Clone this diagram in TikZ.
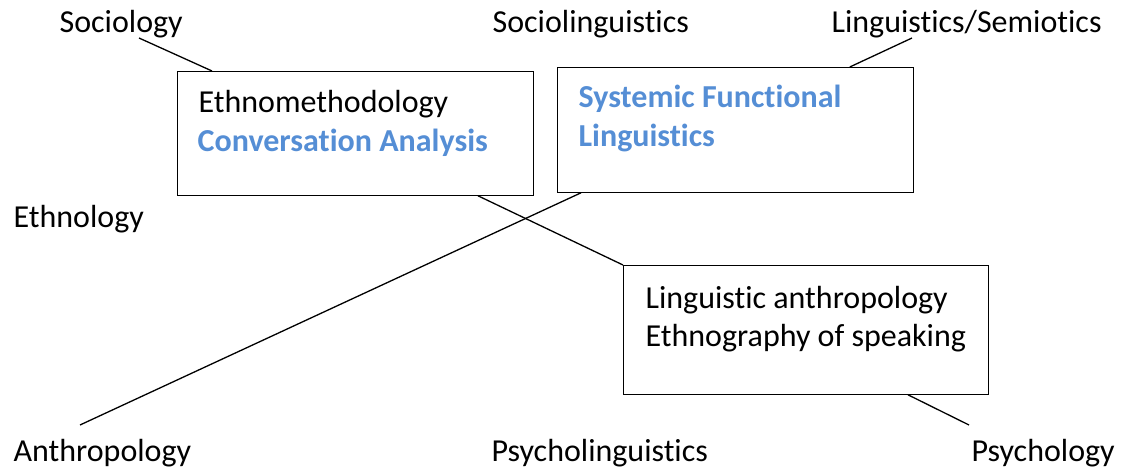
\documentclass[tikz,border=0pt]{standalone}
\usepackage{fontspec}
\setmainfont[Ligatures=NoCommon]{Carlito}
\usetikzlibrary{calc}
\definecolor{sflblue}{RGB}{85,142,213}
\tikzset{
  field/.style={anchor=base west,inner sep=0pt,font=\fontsize{32}{38}\selectfont},
  areabox/.style={draw,thick,anchor=north west,inner sep=0pt},
  hot/.style={field,text=sflblue,font=\fontsize{32}{38}\selectfont\bfseries}
}
\begin{document}
\begin{tikzpicture}[x=1pt,y=-1pt,line width=1.3pt]
\useasboundingbox (0,0) rectangle (1121,470);
% disciplines round the edge
\node[field] (sociology) at (59,33){Sociology};
\node[field] (sociolx) at (492,33){Sociolinguistics};
\node[field] (lingsem) at (831,33){Linguistics/Semiotics};
\node[field] (ethnology) at (13,228){Ethnology};
\node[field] (anthro) at (13,461){Anthropology};
\node[field] (psycholx) at (491,461){Psycholinguistics};
\node[field] (psych) at (971,461){Psychology};
% the three boxes
\node[areabox,minimum width=356pt,minimum height=124pt] (ethnobox) at (177,71){};
\node[areabox,minimum width=356pt,minimum height=125pt] (sflbox) at (557,67){};
\node[areabox,minimum width=365pt,minimum height=129pt] (lingbox) at (623,265){};
\node[field] (ethnometh) at (198,113){Ethnomethodology};
\node[hot] (convan) at (197,152){Conversation Analysis};
\node[hot] (sfl) at (578,108){Systemic Functional};
\node[hot] (sfllx) at (578,147){Linguistics};
\node[field] (linganth) at (645,308){Linguistic anthropology};
\node[field] (ethnospk) at (645,346){Ethnography of speaking};
% connectors
\coordinate (socend) at (139,38);
\coordinate (lsend) at (912,38);
\coordinate (anend) at (80,425);
\coordinate (psend) at (969,425);
\draw (socend) -- ($(ethnobox.north west)+(35,0)$);
\draw (lsend) -- ($(sflbox.north east)+(-64,0)$);
\draw ($(ethnobox.south west)+(301,0)$) -- (lingbox.north west);
\draw ($(sflbox.south west)+(24,0)$) -- (anend);
\draw ($(lingbox.south west)+(285,0)$) -- (psend);
\end{tikzpicture}
\end{document}
